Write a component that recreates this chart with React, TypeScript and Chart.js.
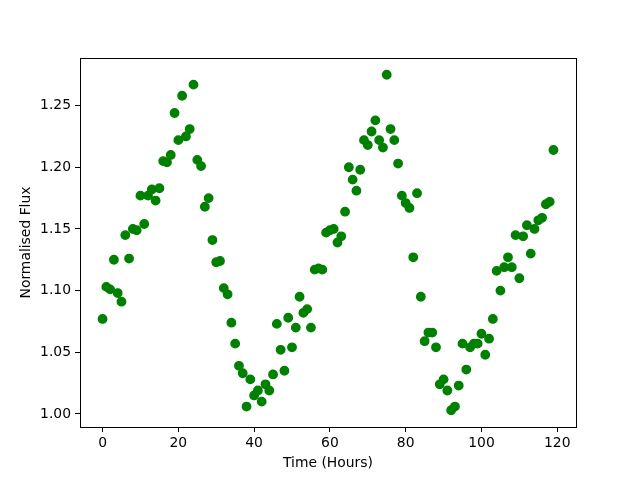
import React, { useEffect, useRef } from "react";
import { Chart, registerables } from "chart.js";

Chart.register(...registerables);

const hours: number[] = Array.from({ length: 120 }, (_, i) => i);

const flux: number[] = [
  1.077, 1.103, 1.101, 1.125, 1.098, 1.091, 1.145, 1.126, 1.150, 1.149,
  1.177, 1.154, 1.177, 1.182, 1.173, 1.183, 1.205, 1.204, 1.210, 1.244,
  1.222, 1.258, 1.225, 1.231, 1.267, 1.206, 1.201, 1.168, 1.175, 1.141,
  1.123, 1.124, 1.102, 1.097, 1.074, 1.057, 1.039, 1.033, 1.006, 1.028,
  1.015, 1.019, 1.010, 1.024, 1.019, 1.032, 1.073, 1.052, 1.035, 1.078,
  1.054, 1.070, 1.095, 1.082, 1.085, 1.070, 1.117, 1.118, 1.117, 1.147,
  1.149, 1.150, 1.139, 1.144, 1.164, 1.200, 1.190, 1.181, 1.198, 1.222,
  1.218, 1.229, 1.238, 1.222, 1.216, 1.275, 1.231, 1.222, 1.203, 1.177,
  1.171, 1.167, 1.127, 1.179, 1.095, 1.059, 1.066, 1.066, 1.054, 1.024,
  1.028, 1.019, 1.003, 1.006, 1.023, 1.057, 1.036, 1.054, 1.057, 1.057,
  1.065, 1.048, 1.061, 1.077, 1.116, 1.100, 1.119, 1.127, 1.119, 1.145,
  1.110, 1.144, 1.153, 1.130, 1.150, 1.157, 1.159, 1.170, 1.172, 1.214,
];

const xTicks: number[] = [0, 20, 40, 60, 80, 100, 120];
const yTicks: number[] = [1.0, 1.05, 1.1, 1.15, 1.2, 1.25];

const xLabel = "Time (Hours)";
const yLabel = "Normalised Flux";

const FONT = "'DejaVu Sans', sans-serif";

const framePlugin = {
  id: "frame",
  afterDraw(chart: any) {
    const { ctx, chartArea } = chart;
    ctx.save();
    ctx.strokeStyle = "#000";
    ctx.lineWidth = 1;
    ctx.strokeRect(
      Math.round(chartArea.left) + 0.5,
      Math.round(chartArea.top) + 0.5,
      Math.round(chartArea.right - chartArea.left),
      Math.round(chartArea.bottom - chartArea.top)
    );
    ctx.restore();
  },
};

export default function App() {
  const ref = useRef<HTMLCanvasElement | null>(null);

  useEffect(() => {
    if (!ref.current) return;
    const data = hours.map((h, i) => ({ x: h, y: flux[i] }));
    const chart = new Chart(ref.current, {
      type: "scatter",
      data: {
        datasets: [
          {
            data,
            backgroundColor: "#008000",
            borderColor: "#008000",
            borderWidth: 1.4,
            pointRadius: 4.2,
          },
        ],
      },
      options: {
        animation: false,
        responsive: false,
        devicePixelRatio: 1,
        layout: { padding: { left: 0, top: 58, right: 64, bottom: 0 } },
        plugins: { legend: { display: false }, tooltip: { enabled: false } },
        scales: {
          x: {
            type: "linear",
            min: -5.95,
            max: 124.95,
            afterBuildTicks: (s: any) => {
              s.ticks = xTicks.map((v) => ({ value: v }));
            },
            afterFit: (s: any) => {
              s.height = 53;
            },
            grid: {
              drawOnChartArea: false,
              drawTicks: true,
              tickLength: 5,
              color: "#000",
              lineWidth: 1,
            },
            border: { display: true, color: "#000", width: 1 },
            ticks: {
              color: "#000",
              font: { family: FONT, size: 13.9 },
              padding: 3,
              maxRotation: 0,
              callback: (v: any) => String(v),
            },
            title: {
              display: true,
              text: xLabel,
              color: "#000",
              font: { family: FONT, size: 13.9 },
              padding: { top: 0, bottom: 8 },
            },
          },
          y: {
            type: "linear",
            min: 0.9894,
            max: 1.2886,
            afterBuildTicks: (s: any) => {
              s.ticks = yTicks.map((v) => ({ value: v }));
            },
            afterFit: (s: any) => {
              s.width = 80;
            },
            grid: {
              drawOnChartArea: false,
              drawTicks: true,
              tickLength: 5,
              color: "#000",
              lineWidth: 1,
            },
            border: { display: true, color: "#000", width: 1 },
            ticks: {
              color: "#000",
              font: { family: FONT, size: 13.9 },
              padding: 4,
              callback: (v: any) => Number(v).toFixed(2),
            },
            title: {
              display: true,
              text: yLabel,
              color: "#000",
              font: { family: FONT, size: 13.9 },
              padding: { top: 18, bottom: 0 },
            },
          },
        },
      },
      plugins: [framePlugin],
    });
    return () => chart.destroy();
  }, []);

  return (
    <div style={{ position: "fixed", left: 0, top: 0, width: 640, height: 480, background: "#fff" }}>
      <canvas ref={ref} width={640} height={480} style={{ width: 640, height: 480 }} />
    </div>
  );
}
